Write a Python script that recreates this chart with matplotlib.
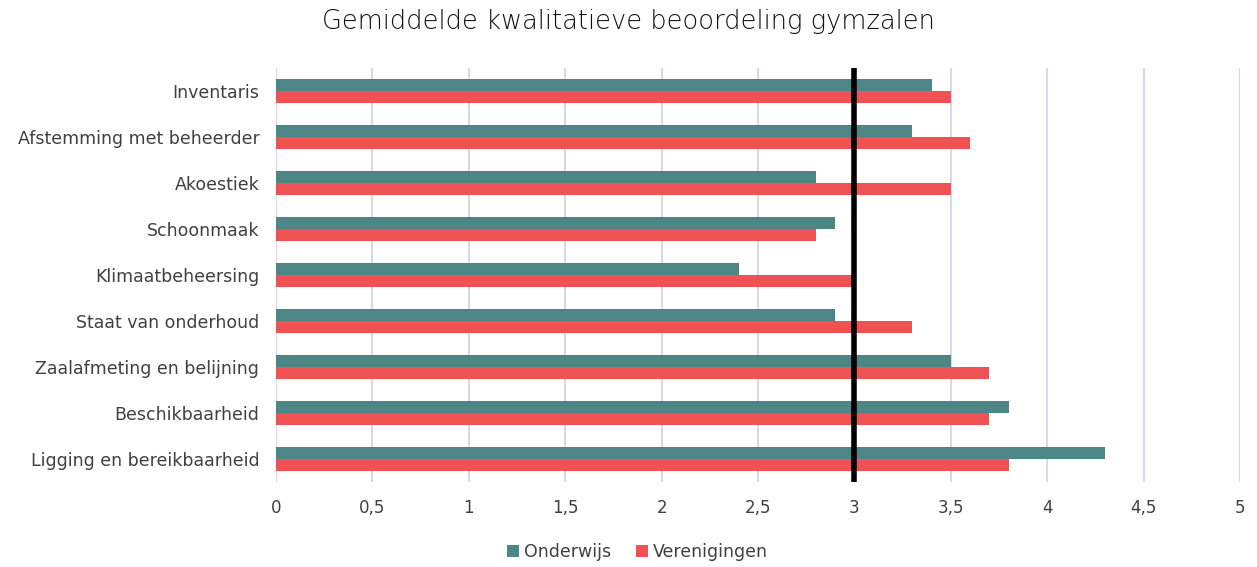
import numpy as np
import matplotlib.pyplot as plt

plt.rcParams['font.family'] = ['DejaVu Sans']

categories = ['Inventaris', 'Afstemming met beheerder', 'Akoestiek', 'Schoonmaak',
              'Klimaatbeheersing', 'Staat van onderhoud', 'Zaalafmeting en belijning',
              'Beschikbaarheid', 'Ligging en bereikbaarheid']
onderwijs = [3.4, 3.3, 2.8, 2.9, 2.4, 2.9, 3.5, 3.8, 4.3]
verenigingen = [3.5, 3.6, 3.5, 2.8, 3.0, 3.3, 3.7, 3.7, 3.8]
xticks = [0, 0.5, 1, 1.5, 2, 2.5, 3, 3.5, 4, 4.5, 5]
xticklabels = ['0', '0,5', '1', '1,5', '2', '2,5', '3', '3,5', '4', '4,5', '5']

teal = '#4E8585'
red = '#EE5253'
grid = '#DCD7E8'
txt = '#404040'

fig = plt.figure(figsize=(12.57, 5.67), dpi=100)
ax = fig.add_axes([276 / 1257, 1 - 482 / 567, (1240 - 276) / 1257, (482 - 68) / 567])

y = np.arange(len(categories))
h = 0.26
ax.barh(y - h / 2, onderwijs, height=h, color=teal, label='Onderwijs', zorder=2)
ax.barh(y + h / 2, verenigingen, height=h, color=red, label='Verenigingen', zorder=2)
ax.axvline(3, color='black', linewidth=4, zorder=3)

ax.set_xlim(0, 5)
ax.set_ylim(len(categories) - 0.5, -0.5)
ax.set_yticks(y)
ax.set_yticklabels(categories, fontsize=12.5, color=txt)
ax.set_xticks(xticks)
ax.set_xticklabels(xticklabels, fontsize=12, color=txt)
ax.tick_params(axis='y', length=0, pad=12)
ax.tick_params(axis='x', length=0, pad=12)
ax.grid(axis='x', color=grid, linewidth=1.5, zorder=0)
for s in ax.spines.values():
    s.set_visible(False)

fig.suptitle('Gemiddelde kwalitatieve beoordeling gymzalen', fontsize=18.5, y=0.985,
             color='#111111', fontweight='light')
fig.legend(loc='center', bbox_to_anchor=(0.507, 0.027), ncol=2, frameon=False,
           fontsize=12.5, handlelength=0.7, handleheight=0.7, handletextpad=0.3,
           columnspacing=1.4, labelcolor=txt)

fig.savefig('out.png', dpi=100)
